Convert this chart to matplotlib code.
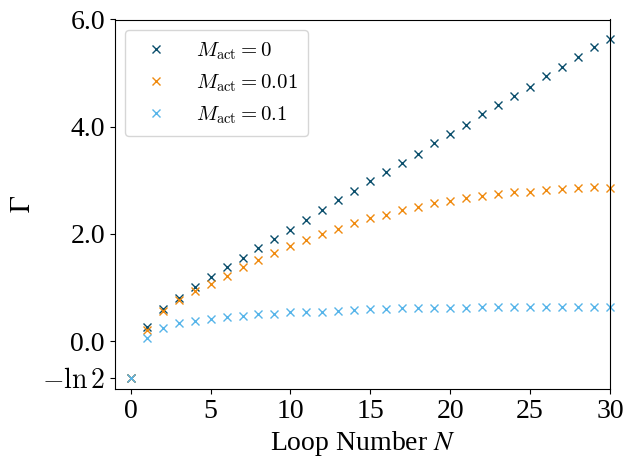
import numpy as np
import matplotlib
matplotlib.use("Agg")
import matplotlib.pyplot as plt
from matplotlib.font_manager import FontProperties

plt.rcParams['font.family'] = ['Liberation Serif', 'DejaVu Serif']
plt.rcParams['mathtext.fontset'] = 'stix'

N = list(range(0, 31))
gamma_m0 = [-0.693, 0.255, 0.59, 0.81, 1.01, 1.20, 1.375, 1.55, 1.73, 1.90, 2.08,
            2.26, 2.44, 2.63, 2.80, 2.985, 3.15, 3.33, 3.50, 3.69, 3.87,
            4.04, 4.23, 4.40, 4.58, 4.75, 4.94, 5.12, 5.30, 5.48, 5.64]
gamma_m001 = [-0.693, 0.205, 0.565, 0.765, 0.93, 1.06, 1.22, 1.375, 1.505, 1.64, 1.77,
              1.88, 1.99, 2.10, 2.20, 2.29, 2.36, 2.44, 2.51, 2.57, 2.62,
              2.67, 2.70, 2.74, 2.78, 2.79, 2.81, 2.83, 2.85, 2.87, 2.86]
gamma_m01 = [-0.693, 0.05, 0.25, 0.335, 0.37, 0.41, 0.45, 0.47, 0.50, 0.515, 0.535,
             0.55, 0.55, 0.57, 0.585, 0.59, 0.59, 0.61, 0.61, 0.61, 0.61,
             0.61, 0.63, 0.63, 0.63, 0.63, 0.63, 0.63, 0.63, 0.63, 0.63]
labels = [r'$M_{\mathrm{act}} = 0$', r'$M_{\mathrm{act}} = 0.01$', r'$M_{\mathrm{act}} = 0.1$']
colors = ['#0b4f6c', '#ef8a0f', '#56b4e9']

ytick_vals = [-np.log(2), 0.0, 2.0, 4.0, 6.0]
ytick_labels = [r'$-\ln 2$', '0.0', '2.0', '4.0', '6.0']
xtick_vals = [0, 5, 10, 15, 20, 25, 30]

fig = plt.figure(figsize=(6.34, 4.70), dpi=100)
ax = fig.add_axes([114.7/634, 1-389/470, (610-114.7)/634, (389-19.5)/470])

for ys, lab, c in zip([gamma_m0, gamma_m001, gamma_m01], labels, colors):
    ax.plot(N, ys, 'x', color=c, label=lab, markersize=6, clip_on=False)

ax.set_xlim(-1, 30)
ax.set_ylim(-np.log(2) - 0.2, 6.0)
ax.set_xticks(xtick_vals)
ax.set_yticks(ytick_vals)
ax.set_yticklabels(ytick_labels)
ax.tick_params(labelsize=20)
ax.get_yticklabels()[0].set_math_fontfamily('cm')
ax.set_xlabel(r'Loop Number $N$', fontsize=20)
ax.set_ylabel(r'$\Gamma$', fontsize=20)

lp = FontProperties(family='Liberation Serif', size=15, math_fontfamily='cm')
ax.legend(loc='upper left', prop=lp, borderpad=0.5, handletextpad=0.9)

fig.savefig('out.png', dpi=100)
